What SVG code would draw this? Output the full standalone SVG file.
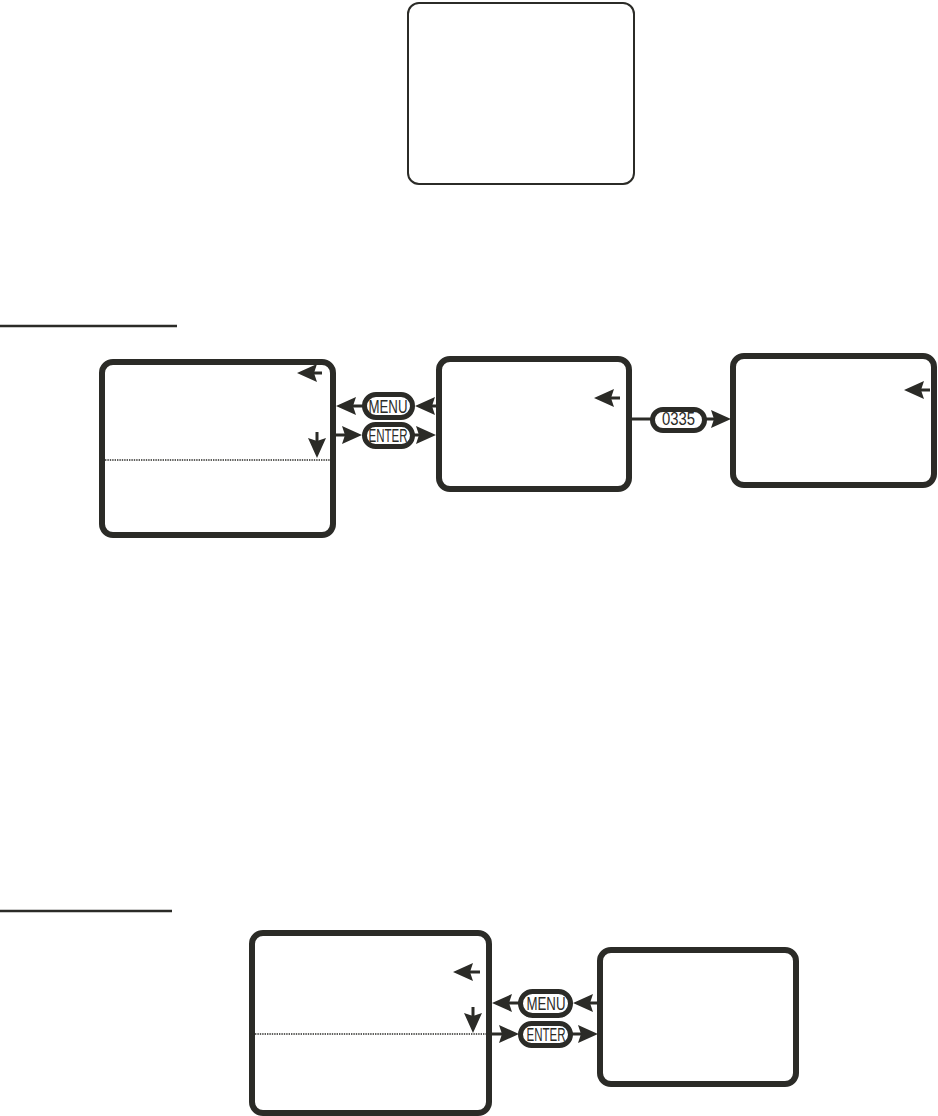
<svg xmlns="http://www.w3.org/2000/svg" width="938" height="1116" viewBox="0 0 938 1116">
<style>
.scr{fill:#fff;stroke:#2b2b27;stroke-width:6}
.thin{fill:#fff;stroke:#2b2b27;stroke-width:2}
.btn{fill:#fff;stroke:#2b2b27;stroke-width:5}
.lbl{font-family:"Liberation Sans",Arial,sans-serif;font-size:18px;fill:#2b2b27;text-anchor:middle}
.ln{stroke:#2b2b27;stroke-width:3;fill:none}
.hd{fill:#2b2b27;stroke:none}
.dot{stroke:#2b2b27;stroke-width:1.6;stroke-dasharray:1.4 1;fill:none}
.rule{stroke:#2b2b27;stroke-width:2.5}
</style>
<rect width="938" height="1116" fill="#fff"/>
<line class="rule" x1="0" y1="326" x2="177" y2="326"/>
<line class="rule" x1="0" y1="911" x2="172" y2="911"/>
<g id="top-screen"><rect class="thin" x="408" y="3" width="226" height="181" rx="11"/></g>
<g id="screen-1">
<rect class="scr" x="102" y="362" width="231" height="173" rx="11"/>
<line class="dot" x1="105" y1="460" x2="330" y2="460"/>
<line class="ln" x1="322" y1="373" x2="313" y2="373"/>
<path class="hd" d="M297,373 L317,364 L314,373 L317,382 Z"/>
<line class="ln" x1="317" y1="432" x2="317" y2="442"/>
<path class="hd" d="M317,458 L308,438 L317,441 L326,438 Z"/>
</g>
<g id="screen-2">
<rect class="scr" x="439" y="359" width="190" height="130" rx="11"/>
<line class="ln" x1="620" y1="398" x2="610" y2="398"/>
<path class="hd" d="M594,398 L614,389 L611,398 L614,407 Z"/>
</g>
<g id="screen-3">
<rect class="scr" x="733" y="356" width="201" height="129" rx="11"/>
<line class="ln" x1="930" y1="390" x2="920" y2="390"/>
<path class="hd" d="M904,390 L924,381 L921,390 L924,399 Z"/>
</g>
<g id="screen-4">
<rect class="scr" x="252" y="933" width="237" height="180" rx="11"/>
<line class="dot" x1="255" y1="1034" x2="490" y2="1034"/>
<line class="ln" x1="480" y1="972" x2="469" y2="972"/>
<path class="hd" d="M453,972 L473,963 L470,972 L473,981 Z"/>
<line class="ln" x1="473" y1="1007" x2="473" y2="1017"/>
<path class="hd" d="M473,1033 L464,1013 L473,1016 L482,1013 Z"/>
</g>
<g id="screen-5">
<rect class="scr" x="600" y="950" width="196" height="134" rx="11"/>
</g>
<g id="connectors">
<line class="ln" x1="363" y1="406" x2="352" y2="406"/>
<path class="hd" d="M336,406 L356,397 L353,406 L356,415 Z"/>
<line class="ln" x1="437" y1="406" x2="431" y2="406"/>
<path class="hd" d="M415,406 L435,397 L432,406 L435,415 Z"/>
<line class="ln" x1="335" y1="435" x2="346" y2="435"/>
<path class="hd" d="M362,435 L342,426 L345,435 L342,444 Z"/>
<line class="ln" x1="414" y1="435" x2="420" y2="435"/>
<path class="hd" d="M436,435 L416,426 L419,435 L416,444 Z"/>
<line class="ln" x1="632" y1="419" x2="651" y2="419"/>
<line class="ln" x1="706" y1="419" x2="715" y2="419"/>
<path class="hd" d="M731,419 L711,410 L714,419 L711,428 Z"/>
<line class="ln" x1="520" y1="1003" x2="508" y2="1003"/>
<path class="hd" d="M492,1003 L512,994 L509,1003 L512,1012 Z"/>
<line class="ln" x1="599" y1="1003" x2="589" y2="1003"/>
<path class="hd" d="M573,1003 L593,994 L590,1003 L593,1012 Z"/>
<line class="ln" x1="491" y1="1034" x2="503" y2="1034"/>
<path class="hd" d="M519,1034 L499,1025 L502,1034 L499,1043 Z"/>
<line class="ln" x1="572" y1="1034" x2="582" y2="1034"/>
<path class="hd" d="M598,1034 L578,1025 L581,1034 L578,1043 Z"/>
</g>
<g id="btn-menu-1">
<rect class="btn" x="364.5" y="394.5" width="48" height="23" rx="11.5"/>
<text class="lbl" x="388" y="412.5" textLength="39" lengthAdjust="spacingAndGlyphs">MENU</text>
</g>
<g id="btn-enter-1">
<rect class="btn" x="364.5" y="424.5" width="48" height="22" rx="11"/>
<text class="lbl" x="388" y="442" textLength="39" lengthAdjust="spacingAndGlyphs">ENTER</text>
</g>
<g id="btn-0335">
<rect class="btn" x="652.5" y="409.5" width="52" height="21" rx="10.5"/>
<text class="lbl" x="678.5" y="425" font-size="15" textLength="33" lengthAdjust="spacingAndGlyphs">0335</text>
</g>
<g id="btn-menu-2">
<rect class="btn" x="520.5" y="991.5" width="50" height="24" rx="12"/>
<text class="lbl" x="546" y="1010" textLength="39" lengthAdjust="spacingAndGlyphs">MENU</text>
</g>
<g id="btn-enter-2">
<rect class="btn" x="520.5" y="1023.5" width="50" height="22" rx="11"/>
<text class="lbl" x="546" y="1041" textLength="39" lengthAdjust="spacingAndGlyphs">ENTER</text>
</g>
</svg>
